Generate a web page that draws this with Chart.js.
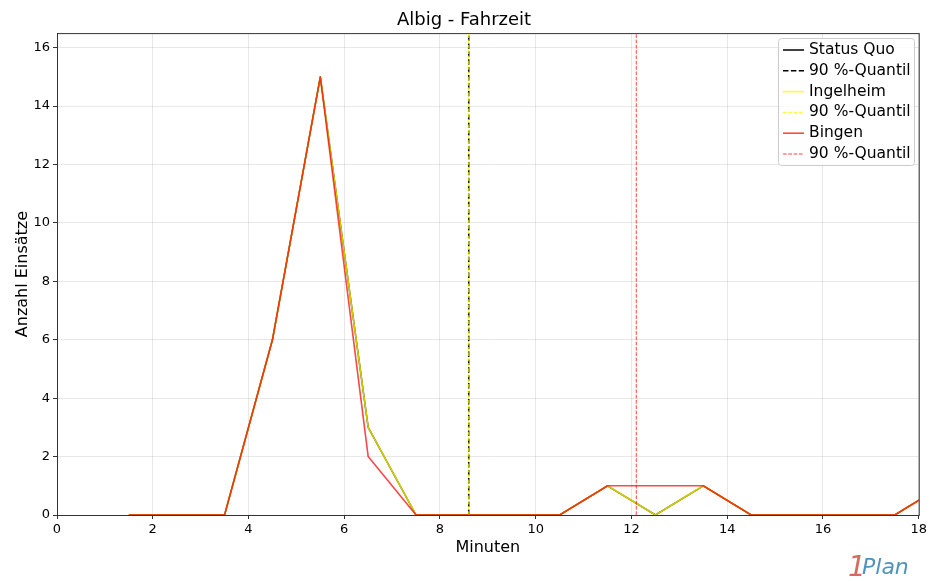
<!DOCTYPE html>
<html>
<head>
<meta charset="utf-8">
<script src="https://cdn.jsdelivr.net/npm/chart.js@4"></script>
<style>
  body { margin: 0; background: #fff; }
  canvas { display: block; }
</style>
</head>
<body>
<canvas id="fahrzeit" width="930" height="583"></canvas>
<script>
// Minuten (Klassenmitte)
const minuten = [1.5, 2.5, 3.5, 4.5, 5.5, 6.5, 7.5, 8.5, 9.5, 10.5, 11.5, 12.5, 13.5, 14.5, 15.5, 16.5, 17.5, 18.5];
const statusQuo = [0, 0, 0, 6, 15, 3, 0, 0, 0, 0, 1, 0, 1, 0, 0, 0, 0, 1];
const ingelheim = [0, 0, 0, 6, 15, 3, 0, 0, 0, 0, 1, 0, 1, 0, 0, 0, 0, 1];
const bingen    = [0, 0, 0, 6, 15, 2, 0, 0, 0, 0, 1, 1, 1, 0, 0, 0, 0, 1];
// 90 %-Quantile
const quantilStatusQuo = 8.6;
const quantilIngelheim = 8.6;
const quantilBingen = 12.1;
const yTicks = [0, 2, 4, 6, 8, 10, 12, 14, 16];
const yMax = 16.5;

function serie(ys) {
  return minuten.map((x, i) => ({x: x, y: ys[i]}));
}
function vertikal(q) {
  return [{x: q, y: 0}, {x: q, y: yMax}];
}

const FONT = "'DejaVu Sans', sans-serif";

const datasets = [
  {label: 'Status Quo', data: serie(statusQuo), borderColor: '#000', borderWidth: 1.5, order: 6},
  {label: '90 %-Quantil', data: vertikal(quantilStatusQuo), borderColor: '#000', borderWidth: 1.5, borderDash: [5.5, 2.4], order: 5},
  {label: 'Ingelheim', data: serie(ingelheim), borderColor: 'rgba(255,255,0,0.8)', borderWidth: 1.6, order: 4},
  {label: '90 %-Quantil', data: vertikal(quantilIngelheim), borderColor: 'rgba(255,255,0,0.8)', borderWidth: 1.2, borderDash: [3.7, 1.6], order: 3},
  {label: 'Bingen', data: serie(bingen), borderColor: 'rgba(255,0,0,0.72)', borderWidth: 1.6, order: 2},
  {label: '90 %-Quantil', data: vertikal(quantilBingen), borderColor: 'rgba(255,0,0,0.75)', borderWidth: 1, borderDash: [3.7, 1.6], order: 1}
];

// Rahmen, Legende und Logo wie im Original
const extras = {
  id: 'extras',
  afterDraw(chart) {
    const ctx = chart.ctx;
    const a = chart.chartArea;
    ctx.save();
    ctx.strokeStyle = '#333';
    ctx.lineWidth = 1;
    ctx.strokeRect(a.left + 0.5, a.top + 0.5, a.right - a.left, a.bottom - a.top);

    // legend box
    const bx = 778, by = 38, bw = 136, bh = 127;
    ctx.fillStyle = 'rgba(255,255,255,0.8)';
    ctx.strokeStyle = '#ccc';
    ctx.beginPath();
    ctx.roundRect(bx + 0.5, by + 0.5, bw, bh, 3);
    ctx.fill();
    ctx.stroke();
    ctx.font = '15.5px ' + FONT;
    ctx.textBaseline = 'middle';
    datasets.forEach((d, i) => {
      const y = by + 12 + i * 20.8;
      ctx.strokeStyle = d.borderColor;
      ctx.lineWidth = d.borderWidth;
      ctx.setLineDash(d.borderDash || []);
      ctx.beginPath();
      ctx.moveTo(bx + 5, y);
      ctx.lineTo(bx + 26, y);
      ctx.stroke();
      ctx.setLineDash([]);
      ctx.fillStyle = '#000';
      ctx.fillText(d.label, bx + 31, y);
    });

    // logo
    ctx.textBaseline = 'alphabetic';
    ctx.font = 'italic 28px ' + FONT;
    ctx.fillStyle = '#d9695f';
    ctx.fillText('1', 848, 576);
    ctx.font = 'italic 22px ' + FONT;
    ctx.fillStyle = '#4f93bd';
    ctx.fillText('Plan', 862, 574);
    ctx.restore();
  }
};

new Chart('fahrzeit', {
  type: 'line',
  data: {datasets: datasets},
  plugins: [extras],
  options: {
    responsive: false,
    animation: false,
    layout: {padding: {left: 9, right: 11, top: 0, bottom: 26}},
    elements: {point: {radius: 0}, line: {tension: 0, borderJoinStyle: 'round'}},
    plugins: {
      legend: {display: false},
      tooltip: {enabled: false},
      title: {
        display: true,
        text: 'Albig - Fahrzeit',
        color: '#000',
        font: {family: FONT, size: 18, weight: 'normal'},
        padding: {top: 10, bottom: 1.5}
      }
    },
    scales: {
      x: {
        type: 'linear',
        min: 0, max: 18,
        afterFit(s) { s.height = 42; },
        ticks: {stepSize: 2, color: '#000', font: {family: FONT, size: 13}, padding: 3, maxRotation: 0},
        grid: {color: 'rgba(0,0,0,0.09)', tickColor: '#333', tickLength: 4},
        border: {color: '#333'},
        title: {display: true, text: 'Minuten', color: '#000', font: {family: FONT, size: 16}, padding: {top: 4, bottom: 0}}
      },
      y: {
        min: 0, max: yMax,
        afterFit(s) { s.width = 48; },
        afterBuildTicks(s) { s.ticks = yTicks.map(v => ({value: v})); },
        ticks: {color: '#000', font: {family: FONT, size: 13}, padding: 3},
        grid: {color: 'rgba(0,0,0,0.09)', tickColor: '#333', tickLength: 4},
        border: {color: '#333'},
        title: {display: true, text: 'Anzahl Einsätze', color: '#000', font: {family: FONT, size: 16}, padding: {top: 4, bottom: 4}}
      }
    }
  }
});
</script>
</body>
</html>
